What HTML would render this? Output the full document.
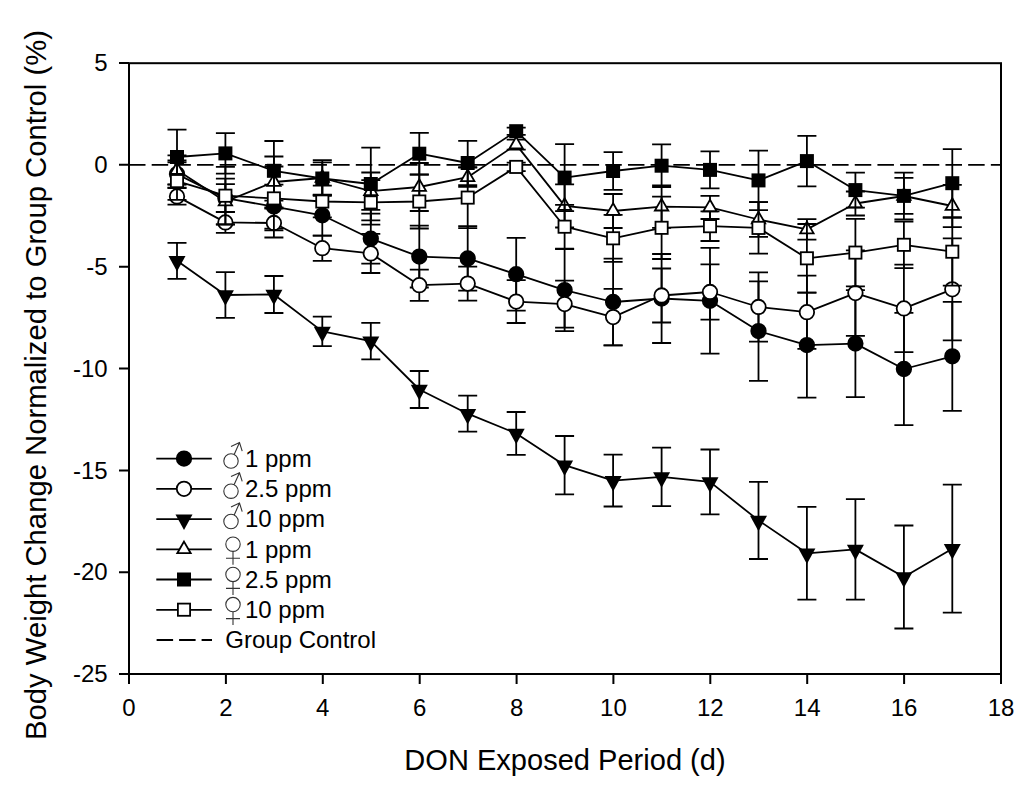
<!DOCTYPE html>
<html><head><meta charset="utf-8"><style>
html,body{margin:0;padding:0;background:#fff;}
svg{display:block;}
text{font-family:"Liberation Sans",sans-serif;font-size:24px;fill:#000;}
.tx{font-size:29.05px;}.ty{font-size:29.25px;}
</style></head><body>
<svg width="1024" height="785" viewBox="0 0 1024 785">
<rect width="1024" height="785" fill="#fff"/>
<rect x="129" y="63.2" width="872" height="610.8" fill="none" stroke="#000" stroke-width="2"/>
<path d="M119 63.0H129M119 164.8H129M119 266.7H129M119 368.5H129M119 470.4H129M119 572.2H129M119 674.0H129M129.0 674V684M225.9 674V684M322.8 674V684M419.7 674V684M516.6 674V684M613.4 674V684M710.3 674V684M807.2 674V684M904.1 674V684M1001.0 674V684" stroke="#000" stroke-width="2" fill="none"/>
<text x="107.7" y="71.2" text-anchor="end">5</text>
<text x="107.7" y="173.0" text-anchor="end">0</text>
<text x="107.7" y="274.9" text-anchor="end">-5</text>
<text x="107.7" y="376.7" text-anchor="end">-10</text>
<text x="107.7" y="478.6" text-anchor="end">-15</text>
<text x="107.7" y="580.4" text-anchor="end">-20</text>
<text x="107.7" y="682.2" text-anchor="end">-25</text>
<text x="129.0" y="716" text-anchor="middle">0</text>
<text x="225.9" y="716" text-anchor="middle">2</text>
<text x="322.8" y="716" text-anchor="middle">4</text>
<text x="419.7" y="716" text-anchor="middle">6</text>
<text x="516.6" y="716" text-anchor="middle">8</text>
<text x="613.4" y="716" text-anchor="middle">10</text>
<text x="710.3" y="716" text-anchor="middle">12</text>
<text x="807.2" y="716" text-anchor="middle">14</text>
<text x="904.1" y="716" text-anchor="middle">16</text>
<text x="1001.0" y="716" text-anchor="middle">18</text>
<line x1="129" y1="164.8" x2="1001" y2="164.8" stroke="#000" stroke-width="1.8" stroke-dasharray="16.5 6.18"/>
<polyline points="177.0,174.1 225.4,198.2 273.9,206.6 322.3,215.3 370.8,238.7 419.3,256.6 467.7,258.4 516.2,274.2 564.6,290.1 613.1,302.0 661.6,298.5 710.0,300.8 758.5,331.1 806.9,345.1 855.4,343.6 903.9,369.0 952.3,356.3" fill="none" stroke="#000" stroke-width="1.8" stroke-linejoin="round"/>
<path d="M177.0 160.5V187.7M167.5 160.5H186.5M167.5 187.7H186.5M225.4 184.2V212.2M215.9 184.2H234.9M215.9 212.2H234.9M273.9 184.6V228.6M264.4 184.6H283.4M264.4 228.6H283.4M322.3 195.0V235.6M312.8 195.0H331.8M312.8 235.6H331.8M370.8 213.7V263.7M361.3 213.7H380.3M361.3 263.7H380.3M419.3 225.7V287.5M409.8 225.7H428.8M409.8 287.5H428.8M467.7 226.2V290.6M458.2 226.2H477.2M458.2 290.6H477.2M516.2 237.8V310.6M506.7 237.8H525.7M506.7 310.6H525.7M564.6 249.1V331.1M555.1 249.1H574.1M555.1 331.1H574.1M613.1 258.6V345.4M603.6 258.6H622.6M603.6 345.4H622.6M661.6 254.0V343.0M652.1 254.0H671.1M652.1 343.0H671.1M710.0 247.9V353.7M700.5 247.9H719.5M700.5 353.7H719.5M758.5 281.3V380.9M749.0 281.3H768.0M749.0 380.9H768.0M806.9 292.6V397.6M797.4 292.6H816.4M797.4 397.6H816.4M855.4 290.1V397.1M845.9 290.1H864.9M845.9 397.1H864.9M903.9 312.9V425.1M894.4 312.9H913.4M894.4 425.1H913.4M952.3 301.8V410.8M942.8 301.8H961.8M942.8 410.8H961.8" stroke="#000" stroke-width="1.8" fill="none"/>
<circle cx="177.0" cy="174.1" r="7.25" fill="#000" stroke="#000" stroke-width="1.8"/>
<circle cx="225.4" cy="198.2" r="7.25" fill="#000" stroke="#000" stroke-width="1.8"/>
<circle cx="273.9" cy="206.6" r="7.25" fill="#000" stroke="#000" stroke-width="1.8"/>
<circle cx="322.3" cy="215.3" r="7.25" fill="#000" stroke="#000" stroke-width="1.8"/>
<circle cx="370.8" cy="238.7" r="7.25" fill="#000" stroke="#000" stroke-width="1.8"/>
<circle cx="419.3" cy="256.6" r="7.25" fill="#000" stroke="#000" stroke-width="1.8"/>
<circle cx="467.7" cy="258.4" r="7.25" fill="#000" stroke="#000" stroke-width="1.8"/>
<circle cx="516.2" cy="274.2" r="7.25" fill="#000" stroke="#000" stroke-width="1.8"/>
<circle cx="564.6" cy="290.1" r="7.25" fill="#000" stroke="#000" stroke-width="1.8"/>
<circle cx="613.1" cy="302.0" r="7.25" fill="#000" stroke="#000" stroke-width="1.8"/>
<circle cx="661.6" cy="298.5" r="7.25" fill="#000" stroke="#000" stroke-width="1.8"/>
<circle cx="710.0" cy="300.8" r="7.25" fill="#000" stroke="#000" stroke-width="1.8"/>
<circle cx="758.5" cy="331.1" r="7.25" fill="#000" stroke="#000" stroke-width="1.8"/>
<circle cx="806.9" cy="345.1" r="7.25" fill="#000" stroke="#000" stroke-width="1.8"/>
<circle cx="855.4" cy="343.6" r="7.25" fill="#000" stroke="#000" stroke-width="1.8"/>
<circle cx="903.9" cy="369.0" r="7.25" fill="#000" stroke="#000" stroke-width="1.8"/>
<circle cx="952.3" cy="356.3" r="7.25" fill="#000" stroke="#000" stroke-width="1.8"/>
<polyline points="177.0,196.4 225.4,222.4 273.9,223.0 322.3,248.2 370.8,253.4 419.3,285.2 467.7,283.6 516.2,301.6 564.6,304.1 613.1,317.1 661.6,295.5 710.0,292.0 758.5,307.0 806.9,312.2 855.4,293.1 903.9,308.4 952.3,289.3" fill="none" stroke="#000" stroke-width="1.8" stroke-linejoin="round"/>
<path d="M177.0 188.1V204.7M167.5 188.1H186.5M167.5 204.7H186.5M225.4 211.9V232.9M215.9 211.9H234.9M215.9 232.9H234.9M273.9 208.5V237.5M264.4 208.5H283.4M264.4 237.5H283.4M322.3 235.6V260.8M312.8 235.6H331.8M312.8 260.8H331.8M370.8 233.8V273.0M361.3 233.8H380.3M361.3 273.0H380.3M419.3 269.6V300.8M409.8 269.6H428.8M409.8 300.8H428.8M467.7 266.6V300.6M458.2 266.6H477.2M458.2 300.6H477.2M516.2 280.2V323.0M506.7 280.2H525.7M506.7 323.0H525.7M564.6 280.6V327.6M555.1 280.6H574.1M555.1 327.6H574.1M613.1 288.8V345.4M603.6 288.8H622.6M603.6 345.4H622.6M661.6 268.5V322.5M652.1 268.5H671.1M652.1 322.5H671.1M710.0 264.4V319.6M700.5 264.4H719.5M700.5 319.6H719.5M758.5 272.4V341.6M749.0 272.4H768.0M749.0 341.6H768.0M806.9 275.6V348.8M797.4 275.6H816.4M797.4 348.8H816.4M855.4 250.3V335.9M845.9 250.3H864.9M845.9 335.9H864.9M903.9 264.6V352.2M894.4 264.6H913.4M894.4 352.2H913.4M952.3 238.3V340.3M942.8 238.3H961.8M942.8 340.3H961.8" stroke="#000" stroke-width="1.8" fill="none"/>
<circle cx="177.0" cy="196.4" r="7.25" fill="#fff" stroke="#000" stroke-width="1.8"/>
<circle cx="225.4" cy="222.4" r="7.25" fill="#fff" stroke="#000" stroke-width="1.8"/>
<circle cx="273.9" cy="223.0" r="7.25" fill="#fff" stroke="#000" stroke-width="1.8"/>
<circle cx="322.3" cy="248.2" r="7.25" fill="#fff" stroke="#000" stroke-width="1.8"/>
<circle cx="370.8" cy="253.4" r="7.25" fill="#fff" stroke="#000" stroke-width="1.8"/>
<circle cx="419.3" cy="285.2" r="7.25" fill="#fff" stroke="#000" stroke-width="1.8"/>
<circle cx="467.7" cy="283.6" r="7.25" fill="#fff" stroke="#000" stroke-width="1.8"/>
<circle cx="516.2" cy="301.6" r="7.25" fill="#fff" stroke="#000" stroke-width="1.8"/>
<circle cx="564.6" cy="304.1" r="7.25" fill="#fff" stroke="#000" stroke-width="1.8"/>
<circle cx="613.1" cy="317.1" r="7.25" fill="#fff" stroke="#000" stroke-width="1.8"/>
<circle cx="661.6" cy="295.5" r="7.25" fill="#fff" stroke="#000" stroke-width="1.8"/>
<circle cx="710.0" cy="292.0" r="7.25" fill="#fff" stroke="#000" stroke-width="1.8"/>
<circle cx="758.5" cy="307.0" r="7.25" fill="#fff" stroke="#000" stroke-width="1.8"/>
<circle cx="806.9" cy="312.2" r="7.25" fill="#fff" stroke="#000" stroke-width="1.8"/>
<circle cx="855.4" cy="293.1" r="7.25" fill="#fff" stroke="#000" stroke-width="1.8"/>
<circle cx="903.9" cy="308.4" r="7.25" fill="#fff" stroke="#000" stroke-width="1.8"/>
<circle cx="952.3" cy="289.3" r="7.25" fill="#fff" stroke="#000" stroke-width="1.8"/>
<polyline points="177.0,260.8 225.4,295.0 273.9,294.5 322.3,331.4 370.8,341.1 419.3,389.5 467.7,413.7 516.2,433.4 564.6,465.2 613.1,480.6 661.6,476.9 710.0,481.9 758.5,520.4 806.9,553.3 855.4,549.4 903.9,577.0 952.3,548.7" fill="none" stroke="#000" stroke-width="1.8" stroke-linejoin="round"/>
<path d="M177.0 242.8V278.8M167.5 242.8H186.5M167.5 278.8H186.5M225.4 272.1V317.9M215.9 272.1H234.9M215.9 317.9H234.9M273.9 276.0V313.0M264.4 276.0H283.4M264.4 313.0H283.4M322.3 316.7V346.1M312.8 316.7H331.8M312.8 346.1H331.8M370.8 322.8V359.4M361.3 322.8H380.3M361.3 359.4H380.3M419.3 371.0V408.0M409.8 371.0H428.8M409.8 408.0H428.8M467.7 395.7V431.7M458.2 395.7H477.2M458.2 431.7H477.2M516.2 412.0V454.8M506.7 412.0H525.7M506.7 454.8H525.7M564.6 436.0V494.4M555.1 436.0H574.1M555.1 494.4H574.1M613.1 454.7V506.5M603.6 454.7H622.6M603.6 506.5H622.6M661.6 447.6V506.2M652.1 447.6H671.1M652.1 506.2H671.1M710.0 449.5V514.3M700.5 449.5H719.5M700.5 514.3H719.5M758.5 481.8V559.0M749.0 481.8H768.0M749.0 559.0H768.0M806.9 506.9V599.7M797.4 506.9H816.4M797.4 599.7H816.4M855.4 499.1V599.7M845.9 499.1H864.9M845.9 599.7H864.9M903.9 525.5V628.5M894.4 525.5H913.4M894.4 628.5H913.4M952.3 484.7V612.7M942.8 484.7H961.8M942.8 612.7H961.8" stroke="#000" stroke-width="1.8" fill="none"/>
<polygon points="168.5,256.1 185.5,256.1 177.0,271.6" fill="#000"/>
<polygon points="216.9,290.3 233.9,290.3 225.4,305.8" fill="#000"/>
<polygon points="265.4,289.8 282.4,289.8 273.9,305.3" fill="#000"/>
<polygon points="313.8,326.7 330.8,326.7 322.3,342.2" fill="#000"/>
<polygon points="362.3,336.4 379.3,336.4 370.8,351.9" fill="#000"/>
<polygon points="410.8,384.8 427.8,384.8 419.3,400.3" fill="#000"/>
<polygon points="459.2,409.0 476.2,409.0 467.7,424.5" fill="#000"/>
<polygon points="507.7,428.7 524.7,428.7 516.2,444.2" fill="#000"/>
<polygon points="556.1,460.5 573.1,460.5 564.6,476.0" fill="#000"/>
<polygon points="604.6,475.9 621.6,475.9 613.1,491.4" fill="#000"/>
<polygon points="653.1,472.2 670.1,472.2 661.6,487.7" fill="#000"/>
<polygon points="701.5,477.2 718.5,477.2 710.0,492.7" fill="#000"/>
<polygon points="750.0,515.7 767.0,515.7 758.5,531.2" fill="#000"/>
<polygon points="798.4,548.6 815.4,548.6 806.9,564.1" fill="#000"/>
<polygon points="846.9,544.7 863.9,544.7 855.4,560.2" fill="#000"/>
<polygon points="895.4,572.3 912.4,572.3 903.9,587.8" fill="#000"/>
<polygon points="943.8,544.0 960.8,544.0 952.3,559.5" fill="#000"/>
<polyline points="177.0,170.0 225.4,201.5 273.9,182.0 322.3,178.0 370.8,191.2 419.3,187.0 467.7,177.2 516.2,144.6 564.6,205.9 613.1,211.0 661.6,206.6 710.0,207.4 758.5,219.5 806.9,229.4 855.4,203.5 903.9,196.0 952.3,206.0" fill="none" stroke="#000" stroke-width="1.8" stroke-linejoin="round"/>
<path d="M177.0 155.3V184.7M167.5 155.3H186.5M167.5 184.7H186.5M225.4 178.6V224.4M215.9 178.6H234.9M215.9 224.4H234.9M273.9 156.5V207.5M264.4 156.5H283.4M264.4 207.5H283.4M322.3 160.2V195.8M312.8 160.2H331.8M312.8 195.8H331.8M370.8 172.5V209.9M361.3 172.5H380.3M361.3 209.9H380.3M419.3 163.0V211.0M409.8 163.0H428.8M409.8 211.0H428.8M467.7 167.6V186.8M458.2 167.6H477.2M458.2 186.8H477.2M516.2 139.6V149.6M506.7 139.6H525.7M506.7 149.6H525.7M564.6 184.3V227.5M555.1 184.3H574.1M555.1 227.5H574.1M613.1 194.0V228.0M603.6 194.0H622.6M603.6 228.0H622.6M661.6 185.4V227.8M652.1 185.4H671.1M652.1 227.8H671.1M710.0 195.8V219.0M700.5 195.8H719.5M700.5 219.0H719.5M758.5 202.2V236.8M749.0 202.2H768.0M749.0 236.8H768.0M806.9 219.1V239.7M797.4 219.1H816.4M797.4 239.7H816.4M855.4 191.5V215.5M845.9 191.5H864.9M845.9 215.5H864.9M903.9 172.6V219.4M894.4 172.6H913.4M894.4 219.4H913.4M952.3 184.8V227.2M942.8 184.8H961.8M942.8 227.2H961.8" stroke="#000" stroke-width="1.8" fill="none"/>
<polygon points="177.0,162.3 183.7,173.9 170.3,173.9" fill="#fff" stroke="#000" stroke-width="1.8"/>
<polygon points="225.4,193.8 232.1,205.4 218.7,205.4" fill="#fff" stroke="#000" stroke-width="1.8"/>
<polygon points="273.9,174.3 280.6,185.9 267.2,185.9" fill="#fff" stroke="#000" stroke-width="1.8"/>
<polygon points="322.3,170.3 329.0,181.9 315.6,181.9" fill="#fff" stroke="#000" stroke-width="1.8"/>
<polygon points="370.8,183.5 377.5,195.1 364.1,195.1" fill="#fff" stroke="#000" stroke-width="1.8"/>
<polygon points="419.3,179.3 426.0,190.9 412.6,190.9" fill="#fff" stroke="#000" stroke-width="1.8"/>
<polygon points="467.7,169.5 474.4,181.1 461.0,181.1" fill="#fff" stroke="#000" stroke-width="1.8"/>
<polygon points="516.2,136.9 522.9,148.5 509.5,148.5" fill="#fff" stroke="#000" stroke-width="1.8"/>
<polygon points="564.6,198.2 571.3,209.8 557.9,209.8" fill="#fff" stroke="#000" stroke-width="1.8"/>
<polygon points="613.1,203.3 619.8,214.9 606.4,214.9" fill="#fff" stroke="#000" stroke-width="1.8"/>
<polygon points="661.6,198.9 668.3,210.5 654.9,210.5" fill="#fff" stroke="#000" stroke-width="1.8"/>
<polygon points="710.0,199.7 716.7,211.3 703.3,211.3" fill="#fff" stroke="#000" stroke-width="1.8"/>
<polygon points="758.5,211.8 765.2,223.4 751.8,223.4" fill="#fff" stroke="#000" stroke-width="1.8"/>
<polygon points="806.9,221.7 813.6,233.3 800.2,233.3" fill="#fff" stroke="#000" stroke-width="1.8"/>
<polygon points="855.4,195.8 862.1,207.4 848.7,207.4" fill="#fff" stroke="#000" stroke-width="1.8"/>
<polygon points="903.9,188.3 910.6,199.9 897.2,199.9" fill="#fff" stroke="#000" stroke-width="1.8"/>
<polygon points="952.3,198.3 959.0,209.9 945.6,209.9" fill="#fff" stroke="#000" stroke-width="1.8"/>
<polyline points="177.0,157.0 225.4,153.4 273.9,170.8 322.3,178.5 370.8,184.0 419.3,153.7 467.7,163.0 516.2,131.2 564.6,177.6 613.1,171.0 661.6,165.7 710.0,169.9 758.5,180.4 806.9,161.1 855.4,190.1 903.9,195.9 952.3,183.2" fill="none" stroke="#000" stroke-width="1.8" stroke-linejoin="round"/>
<path d="M177.0 129.7V184.3M167.5 129.7H186.5M167.5 184.3H186.5M225.4 133.1V173.7M215.9 133.1H234.9M215.9 173.7H234.9M273.9 141.0V200.6M264.4 141.0H283.4M264.4 200.6H283.4M322.3 162.4V194.6M312.8 162.4H331.8M312.8 194.6H331.8M370.8 147.6V220.4M361.3 147.6H380.3M361.3 220.4H380.3M419.3 132.8V174.6M409.8 132.8H428.8M409.8 174.6H428.8M467.7 140.8V185.2M458.2 140.8H477.2M458.2 185.2H477.2M516.2 127.6V134.8M506.7 127.6H525.7M506.7 134.8H525.7M564.6 144.1V211.1M555.1 144.1H574.1M555.1 211.1H574.1M613.1 152.2V189.8M603.6 152.2H622.6M603.6 189.8H622.6M661.6 144.4V187.0M652.1 144.4H671.1M652.1 187.0H671.1M710.0 151.4V188.4M700.5 151.4H719.5M700.5 188.4H719.5M758.5 150.6V210.2M749.0 150.6H768.0M749.0 210.2H768.0M806.9 135.9V186.3M797.4 135.9H816.4M797.4 186.3H816.4M855.4 172.6V207.6M845.9 172.6H864.9M845.9 207.6H864.9M903.9 177.9V213.9M894.4 177.9H913.4M894.4 213.9H913.4M952.3 149.2V217.2M942.8 149.2H961.8M942.8 217.2H961.8" stroke="#000" stroke-width="1.8" fill="none"/>
<rect x="170.9" y="150.9" width="12.2" height="12.2" fill="#000" stroke="#000" stroke-width="1.8"/>
<rect x="219.3" y="147.3" width="12.2" height="12.2" fill="#000" stroke="#000" stroke-width="1.8"/>
<rect x="267.8" y="164.7" width="12.2" height="12.2" fill="#000" stroke="#000" stroke-width="1.8"/>
<rect x="316.2" y="172.4" width="12.2" height="12.2" fill="#000" stroke="#000" stroke-width="1.8"/>
<rect x="364.7" y="177.9" width="12.2" height="12.2" fill="#000" stroke="#000" stroke-width="1.8"/>
<rect x="413.2" y="147.6" width="12.2" height="12.2" fill="#000" stroke="#000" stroke-width="1.8"/>
<rect x="461.6" y="156.9" width="12.2" height="12.2" fill="#000" stroke="#000" stroke-width="1.8"/>
<rect x="510.1" y="125.1" width="12.2" height="12.2" fill="#000" stroke="#000" stroke-width="1.8"/>
<rect x="558.5" y="171.5" width="12.2" height="12.2" fill="#000" stroke="#000" stroke-width="1.8"/>
<rect x="607.0" y="164.9" width="12.2" height="12.2" fill="#000" stroke="#000" stroke-width="1.8"/>
<rect x="655.5" y="159.6" width="12.2" height="12.2" fill="#000" stroke="#000" stroke-width="1.8"/>
<rect x="703.9" y="163.8" width="12.2" height="12.2" fill="#000" stroke="#000" stroke-width="1.8"/>
<rect x="752.4" y="174.3" width="12.2" height="12.2" fill="#000" stroke="#000" stroke-width="1.8"/>
<rect x="800.8" y="155.0" width="12.2" height="12.2" fill="#000" stroke="#000" stroke-width="1.8"/>
<rect x="849.3" y="184.0" width="12.2" height="12.2" fill="#000" stroke="#000" stroke-width="1.8"/>
<rect x="897.8" y="189.8" width="12.2" height="12.2" fill="#000" stroke="#000" stroke-width="1.8"/>
<rect x="946.2" y="177.1" width="12.2" height="12.2" fill="#000" stroke="#000" stroke-width="1.8"/>
<polyline points="177.0,181.1 225.4,195.7 273.9,198.4 322.3,201.5 370.8,202.4 419.3,201.5 467.7,197.6 516.2,166.9 564.6,226.7 613.1,238.3 661.6,227.8 710.0,226.2 758.5,227.9 806.9,258.3 855.4,252.6 903.9,244.8 952.3,251.7" fill="none" stroke="#000" stroke-width="1.8" stroke-linejoin="round"/>
<path d="M177.0 162.4V199.8M167.5 162.4H186.5M167.5 199.8H186.5M225.4 166.9V224.5M215.9 166.9H234.9M215.9 224.5H234.9M273.9 166.5V230.3M264.4 166.5H283.4M264.4 230.3H283.4M322.3 185.7V217.3M312.8 185.7H331.8M312.8 217.3H331.8M370.8 180.1V224.7M361.3 180.1H380.3M361.3 224.7H380.3M419.3 174.5V228.5M409.8 174.5H428.8M409.8 228.5H428.8M467.7 167.1V228.1M458.2 167.1H477.2M458.2 228.1H477.2M516.2 162.7V171.1M506.7 162.7H525.7M506.7 171.1H525.7M564.6 204.8V248.6M555.1 204.8H574.1M555.1 248.6H574.1M613.1 214.8V261.8M603.6 214.8H622.6M603.6 261.8H622.6M661.6 196.6V259.0M652.1 196.6H671.1M652.1 259.0H671.1M710.0 211.4V241.0M700.5 211.4H719.5M700.5 241.0H719.5M758.5 202.2V253.6M749.0 202.2H768.0M749.0 253.6H768.0M806.9 224.0V292.6M797.4 224.0H816.4M797.4 292.6H816.4M855.4 218.8V286.4M845.9 218.8H864.9M845.9 286.4H864.9M903.9 221.5V268.1M894.4 221.5H913.4M894.4 268.1H913.4M952.3 217.8V285.6M942.8 217.8H961.8M942.8 285.6H961.8" stroke="#000" stroke-width="1.8" fill="none"/>
<rect x="170.9" y="175.0" width="12.2" height="12.2" fill="#fff" stroke="#000" stroke-width="1.8"/>
<rect x="219.3" y="189.6" width="12.2" height="12.2" fill="#fff" stroke="#000" stroke-width="1.8"/>
<rect x="267.8" y="192.3" width="12.2" height="12.2" fill="#fff" stroke="#000" stroke-width="1.8"/>
<rect x="316.2" y="195.4" width="12.2" height="12.2" fill="#fff" stroke="#000" stroke-width="1.8"/>
<rect x="364.7" y="196.3" width="12.2" height="12.2" fill="#fff" stroke="#000" stroke-width="1.8"/>
<rect x="413.2" y="195.4" width="12.2" height="12.2" fill="#fff" stroke="#000" stroke-width="1.8"/>
<rect x="461.6" y="191.5" width="12.2" height="12.2" fill="#fff" stroke="#000" stroke-width="1.8"/>
<rect x="510.1" y="160.8" width="12.2" height="12.2" fill="#fff" stroke="#000" stroke-width="1.8"/>
<rect x="558.5" y="220.6" width="12.2" height="12.2" fill="#fff" stroke="#000" stroke-width="1.8"/>
<rect x="607.0" y="232.2" width="12.2" height="12.2" fill="#fff" stroke="#000" stroke-width="1.8"/>
<rect x="655.5" y="221.7" width="12.2" height="12.2" fill="#fff" stroke="#000" stroke-width="1.8"/>
<rect x="703.9" y="220.1" width="12.2" height="12.2" fill="#fff" stroke="#000" stroke-width="1.8"/>
<rect x="752.4" y="221.8" width="12.2" height="12.2" fill="#fff" stroke="#000" stroke-width="1.8"/>
<rect x="800.8" y="252.2" width="12.2" height="12.2" fill="#fff" stroke="#000" stroke-width="1.8"/>
<rect x="849.3" y="246.5" width="12.2" height="12.2" fill="#fff" stroke="#000" stroke-width="1.8"/>
<rect x="897.8" y="238.7" width="12.2" height="12.2" fill="#fff" stroke="#000" stroke-width="1.8"/>
<rect x="946.2" y="245.6" width="12.2" height="12.2" fill="#fff" stroke="#000" stroke-width="1.8"/>
<line x1="156.3" y1="458.6" x2="211.8" y2="458.6" stroke="#000" stroke-width="1.8"/>
<circle cx="184.0" cy="458.6" r="7.25" fill="#000" stroke="#000" stroke-width="1.8"/>
<text x="245" y="466.9">1 ppm</text>
<g stroke="#333" stroke-width="1.1" fill="none"><circle cx="231" cy="461.0" r="7.2"/><path d="M234.2 454.4L239.5 442.6M231.0 446.4L239.5 442.6L242.2 451.1"/></g>
<line x1="156.3" y1="488.8" x2="211.8" y2="488.8" stroke="#000" stroke-width="1.8"/>
<circle cx="184.0" cy="488.8" r="7.25" fill="#fff" stroke="#000" stroke-width="1.8"/>
<text x="245" y="497.1">2.5 ppm</text>
<g stroke="#333" stroke-width="1.1" fill="none"><circle cx="231" cy="491.2" r="7.2"/><path d="M234.2 484.6L239.5 472.8M231.0 476.6L239.5 472.8L242.2 481.3"/></g>
<line x1="156.3" y1="519.1" x2="211.8" y2="519.1" stroke="#000" stroke-width="1.8"/>
<polygon points="175.5,514.4 192.5,514.4 184.0,529.9" fill="#000"/>
<text x="245" y="527.4">10 ppm</text>
<g stroke="#333" stroke-width="1.1" fill="none"><circle cx="231" cy="521.5" r="7.2"/><path d="M234.2 514.9L239.5 503.1M231.0 506.9L239.5 503.1L242.2 511.6"/></g>
<line x1="156.3" y1="549.3" x2="211.8" y2="549.3" stroke="#000" stroke-width="1.8"/>
<polygon points="184.0,541.6 190.7,553.2 177.3,553.2" fill="#fff" stroke="#000" stroke-width="1.8"/>
<text x="245" y="557.6">1 ppm</text>
<g stroke="#333" stroke-width="1.1" fill="none"><circle cx="233" cy="544.2" r="7.2"/><path d="M233 551.5V564.7M226.0 558.2H240.0"/></g>
<line x1="156.3" y1="579.5" x2="211.8" y2="579.5" stroke="#000" stroke-width="1.8"/>
<rect x="177.9" y="573.4" width="12.2" height="12.2" fill="#000" stroke="#000" stroke-width="1.8"/>
<text x="245" y="587.8">2.5 ppm</text>
<g stroke="#333" stroke-width="1.1" fill="none"><circle cx="233" cy="574.4" r="7.2"/><path d="M233 581.7V594.9M226.0 588.4H240.0"/></g>
<line x1="156.3" y1="609.8" x2="211.8" y2="609.8" stroke="#000" stroke-width="1.8"/>
<rect x="177.9" y="603.6" width="12.2" height="12.2" fill="#fff" stroke="#000" stroke-width="1.8"/>
<text x="245" y="618.0">10 ppm</text>
<g stroke="#333" stroke-width="1.1" fill="none"><circle cx="233" cy="604.6" r="7.2"/><path d="M233 611.9V625.1M226.0 618.6H240.0"/></g>
<line x1="156.6" y1="640.0" x2="212" y2="640.0" stroke="#000" stroke-width="1.8" stroke-dasharray="16.5 6"/>
<text x="225.3" y="648.3">Group Control</text>
<text class="tx" x="565" y="769.5" text-anchor="middle">DON Exposed Period (d)</text>
<text class="ty" transform="translate(46.3,385) rotate(-90)" text-anchor="middle">Body Weight Change Normalized to Group Control (%)</text>
</svg>
</body></html>
